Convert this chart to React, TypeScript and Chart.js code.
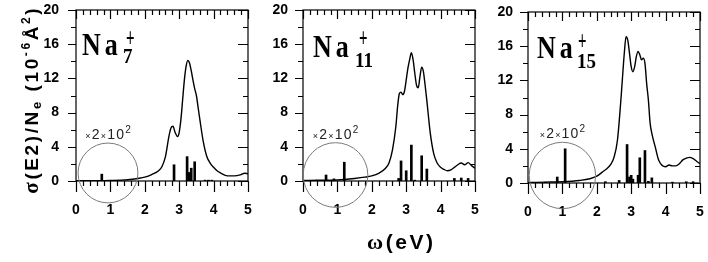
import React, { useEffect, useRef } from "react";
import { Chart, registerables } from "chart.js";

Chart.register(...registerables);

// ---------------- data ----------------
const xTicks = [0, 1, 2, 3, 4, 5];
const yTicks = [0, 4, 8, 12, 16, 20];
const clusterLabels = ["7", "11", "15"];

// Na7+ : smooth cross-section curve
const na7Energy = [0, 0.5, 1.0, 1.5, 1.8, 2.0, 2.2, 2.4, 2.5, 2.6, 2.7, 2.76, 2.82, 2.88, 2.95, 3.0, 3.05, 3.1, 3.15, 3.2, 3.25, 3.3, 3.35, 3.4, 3.45, 3.5, 3.55, 3.6, 3.7, 3.8, 3.9, 4.0, 4.1, 4.2, 4.4, 4.6, 4.8, 4.9, 5.0];
const na7Sigma = [0.02, 0.03, 0.06, 0.15, 0.3, 0.45, 0.75, 1.2, 1.7, 2.85, 5.2, 6.2, 6.4, 5.7, 5.2, 5.7, 7.2, 9.5, 11.8, 13.4, 14.1, 13.8, 12.9, 11.8, 10.8, 10.0, 8.6, 7.2, 4.6, 2.9, 2.1, 1.6, 1.2, 0.95, 0.6, 0.6, 0.75, 0.9, 0.85];
// Na7+ : discrete transitions (sticks)
const na7StickEnergy = [0.3, 0.5, 0.75, 1.0, 1.3, 2.85, 3.23, 3.28, 3.35, 3.45, 3.75, 3.85, 3.95];
const na7StickHeight = [0.05, 0.08, 0.8, 0.05, 0.05, 1.9, 2.85, 1.0, 1.5, 2.25, 0.1, 0.1, 0.1];

// Na11+
const na11Energy = [0, 0.5, 1.0, 1.5, 1.8, 2.0, 2.2, 2.4, 2.5, 2.6, 2.7, 2.75, 2.8, 2.85, 2.9, 2.95, 3.0, 3.05, 3.1, 3.15, 3.2, 3.25, 3.3, 3.35, 3.4, 3.45, 3.5, 3.55, 3.6, 3.7, 3.8, 3.9, 4.0, 4.1, 4.2, 4.3, 4.4, 4.5, 4.6, 4.7, 4.8, 4.9, 5.0];
const na11Sigma = [0.05, 0.08, 0.12, 0.3, 0.45, 0.6, 0.9, 1.5, 2.1, 3.6, 6.4, 8.7, 10.2, 10.4, 10.1, 10.5, 11.8, 13.2, 14.2, 15.0, 14.2, 12.6, 11.2, 10.9, 12.2, 13.3, 12.8, 11.2, 9.4, 5.6, 3.2, 2.1, 1.6, 1.35, 1.2, 1.3, 1.6, 1.9, 2.1, 1.9, 2.15, 1.8, 1.5];
const na11StickEnergy = [0.4, 0.67, 0.9, 1.2, 2.78, 2.85, 3.0, 3.15, 3.25, 3.45, 3.6, 4.4, 4.6, 4.8];
const na11StickHeight = [0.1, 0.7, 0.25, 2.2, 0.3, 2.35, 1.2, 4.2, 0.1, 2.95, 1.4, 0.3, 0.35, 0.3];

// Na15+
const na15Energy = [0, 0.5, 1.0, 1.5, 1.8, 2.0, 2.2, 2.3, 2.4, 2.5, 2.6, 2.7, 2.8, 2.85, 2.9, 2.95, 3.0, 3.05, 3.1, 3.15, 3.2, 3.25, 3.3, 3.35, 3.4, 3.45, 3.5, 3.55, 3.6, 3.7, 3.8, 3.9, 4.0, 4.1, 4.2, 4.3, 4.4, 4.5, 4.6, 4.7, 4.8, 4.9, 5.0];
const na15Sigma = [0.05, 0.1, 0.15, 0.3, 0.5, 0.8, 1.4, 1.7, 2.15, 3.0, 5.0, 9.7, 15.2, 17.1, 16.7, 15.2, 13.6, 13.0, 13.6, 14.8, 15.4, 15.0, 14.4, 14.6, 14.0, 11.6, 9.7, 7.0, 5.8, 4.2, 2.65, 2.05, 1.9, 2.1, 2.0, 2.0, 2.25, 2.7, 2.9, 3.0, 2.85, 2.55, 2.25];
const na15StickEnergy = [0.5, 0.85, 1.08, 2.25, 2.65, 2.88, 2.95, 3.0, 3.05, 3.2, 3.25, 3.4, 3.5, 3.6, 4.2, 4.6, 4.8];
const na15StickHeight = [0.1, 0.7, 4.0, 0.15, 0.3, 4.5, 0.7, 0.9, 0.45, 0.9, 2.95, 3.8, 0.2, 0.6, 0.1, 0.15, 0.15];

// ---------------- layout / style ----------------
const X_MINOR = 0.2;
const Y_MINOR = 2;
const SANS = '"Liberation Sans", Arial, sans-serif';
const SERIF = '"Liberation Serif", "Times New Roman", serif';

type Panel = {
  energy: number[]; sigma: number[]; stickE: number[]; stickH: number[]; sub: string;
  canvasLeft: number; canvasWidth: number; yAxisWidth: number; padRight: number; padTop: number;
  xAxisHeight: number; yLabelGap: number;
  nameDx: number; nameBase: number; subDx: number; subBase: number; plusDx: number; plusBase: number;
  circle: { x: number; y: number; r: number };
  yTitle: boolean; xTitle: boolean;
};

const panels: Panel[] = [
  {
    energy: na7Energy, sigma: na7Sigma, stickE: na7StickEnergy, stickH: na7StickHeight, sub: clusterLabels[0],
    canvasLeft: 0, canvasWidth: 256, yAxisWidth: 76, padRight: 8, padTop: 10, xAxisHeight: 81, yLabelGap: 17,
    nameDx: 6, nameBase: 45, subDx: 47, subBase: 53, plusDx: 50, plusBase: 37,
    circle: { x: 0.93, y: 0.94, r: 0.87 }, yTitle: true, xTitle: false,
  },
  {
    energy: na11Energy, sigma: na11Sigma, stickE: na11StickEnergy, stickH: na11StickHeight, sub: clusterLabels[1],
    canvasLeft: 256, canvasWidth: 226, yAxisWidth: 47, padRight: 7, padTop: 10, xAxisHeight: 81, yLabelGap: 15,
    nameDx: 10, nameBase: 47, subDx: 52, subBase: 57, plusDx: 56, plusBase: 37,
    circle: { x: 0.945, y: 0.7, r: 0.94 }, yTitle: false, xTitle: true,
  },
  {
    energy: na15Energy, sigma: na15Sigma, stickE: na15StickEnergy, stickH: na15StickHeight, sub: clusterLabels[2],
    canvasLeft: 482, canvasWidth: 226, yAxisWidth: 46, padRight: 8, padTop: 12, xAxisHeight: 79, yLabelGap: 15,
    nameDx: 9, nameBase: 46, subDx: 49, subBase: 56, plusDx: 50, plusBase: 38,
    circle: { x: 1.0, y: 0.88, r: 0.965 }, yTitle: false, xTitle: false,
  },
];

type Seg = { t: string; font: string; dy?: number };

function runWidth(ctx: CanvasRenderingContext2D, segs: Seg[], sp: number) {
  let w = 0;
  let n = 0;
  for (const s of segs) {
    ctx.font = s.font;
    for (const ch of s.t) { w += ctx.measureText(ch).width; n++; }
  }
  return w + sp * (n - 1);
}

function drawRun(ctx: CanvasRenderingContext2D, segs: Seg[], x: number, y: number, sp: number) {
  let cx = x;
  for (const s of segs) {
    ctx.font = s.font;
    for (const ch of s.t) {
      ctx.fillText(ch, cx, y + (s.dy || 0));
      cx += ctx.measureText(ch).width + sp;
    }
  }
}

function stretched(ctx: CanvasRenderingContext2D, text: string, x: number, base: number, font: string, sy: number) {
  ctx.save();
  ctx.translate(x, base);
  ctx.scale(1, sy);
  ctx.font = font;
  ctx.textAlign = "left";
  ctx.textBaseline = "alphabetic";
  ctx.fillText(text, 0, 0);
  ctx.restore();
}

function makeOverlay(p: Panel) {
  return {
    id: "overlay",
    afterDraw(chart: any) {
      const { ctx, chartArea: a } = chart;
      const xs = chart.scales.x;
      const ys = chart.scales.y;
      ctx.save();
      ctx.strokeStyle = "#000";
      ctx.lineWidth = 1.2;
      ctx.strokeRect(a.left, a.top, a.right - a.left, a.bottom - a.top);
      ctx.beginPath();
      const nx = Math.round((xs.max - xs.min) / X_MINOR);
      for (let i = 0; i <= nx; i++) {
        const v = xs.min + i * X_MINOR;
        const px = Math.round(xs.getPixelForValue(v)) + 0.5;
        const major = Math.abs(v - Math.round(v)) < 1e-6;
        ctx.moveTo(px, a.bottom);
        ctx.lineTo(px, a.bottom + (major ? 11 : 5));
        ctx.moveTo(px, a.top);
        ctx.lineTo(px, a.top + (major ? 9 : 5));
      }
      const ny = Math.round((ys.max - ys.min) / Y_MINOR);
      for (let i = 0; i <= ny; i++) {
        const v = ys.min + i * Y_MINOR;
        const py = Math.round(ys.getPixelForValue(v)) + 0.5;
        const major = i % 2 === 0;
        ctx.moveTo(a.left, py);
        ctx.lineTo(a.left - (major ? 8 : 5), py);
        ctx.moveTo(a.right, py);
        ctx.lineTo(a.right - (major ? 10 : 5), py);
      }
      ctx.stroke();

      // circle marking the magnified low-energy region
      const unit = xs.getPixelForValue(1) - xs.getPixelForValue(0);
      const cx = xs.getPixelForValue(p.circle.x);
      const cy = ys.getPixelForValue(p.circle.y);
      const r = p.circle.r * unit;
      ctx.beginPath();
      ctx.strokeStyle = "#7a7a7a";
      ctx.lineWidth = 1;
      ctx.arc(cx, cy, r, 0, Math.PI * 2);
      ctx.stroke();

      // magnification label
      ctx.fillStyle = "#222";
      ctx.textBaseline = "alphabetic";
      ctx.textAlign = "left";
      const mag: Seg[] = [
        { t: "×", font: `9px ${SANS}` },
        { t: "2", font: `14px ${SANS}` },
        { t: "×", font: `9px ${SANS}` },
        { t: "10", font: `14px ${SANS}` },
        { t: "2", font: `10px ${SANS}`, dy: -6 },
      ];
      const mw = runWidth(ctx, mag, 1.2);
      drawRun(ctx, mag, cx - mw / 2, cy - r - 4, 1.2);

      // cluster name
      ctx.fillStyle = "#000";
      const nameFont = `bold 26px ${SERIF}`;
      const nx0 = a.left + p.nameDx;
      const nb = a.top + p.nameBase;
      ctx.font = nameFont;
      const wN = ctx.measureText("N").width;
      stretched(ctx, "N", nx0, nb, nameFont, 1.22);
      stretched(ctx, "a", nx0 + wN + 4, nb, nameFont, 1.22);
      stretched(ctx, p.sub, a.left + p.subDx, a.top + p.subBase, `bold 19px ${SERIF}`, 1.12);
      stretched(ctx, "+", a.left + p.plusDx, a.top + p.plusBase, `bold 15px ${SERIF}`, 1.8);

      if (p.yTitle) {
        const segs: Seg[] = [
          { t: "σ", font: `bold 21px ${SERIF}` },
          { t: "(E2)/N", font: `bold 19px ${SANS}` },
          { t: "e", font: `bold 13px ${SANS}`, dy: 3 },
          { t: " (10", font: `bold 19px ${SANS}` },
          { t: "-6", font: `bold 12px ${SANS}`, dy: -8 },
          { t: "Å", font: `bold 19px ${SANS}` },
          { t: "2", font: `bold 12px ${SANS}`, dy: -8 },
          { t: ")", font: `bold 19px ${SANS}` },
        ];
        const sp = 2.6;
        const w = runWidth(ctx, segs, sp);
        ctx.save();
        ctx.translate(38 - p.canvasLeft, 101);
        ctx.rotate(-Math.PI / 2);
        drawRun(ctx, segs, -w / 2, 0, sp);
        ctx.restore();
      }
      if (p.xTitle) {
        const segs: Seg[] = [
          { t: "ω", font: `bold 22px ${SERIF}` },
          { t: "(eV)", font: `bold 21px ${SANS}` },
        ];
        const sp = 2.5;
        const w = runWidth(ctx, segs, sp);
        drawRun(ctx, segs, 400 - p.canvasLeft - w / 2, 249, sp);
      }
      ctx.restore();
    },
  };
}

function PanelChart({ p }: { p: Panel }) {
  const ref = useRef<HTMLCanvasElement | null>(null);
  useEffect(() => {
    if (!ref.current) return;
    const tickFont = { family: SANS, size: 14, weight: "bold" as const };
    const chart = new Chart(ref.current, {
      type: "line",
      data: {
        datasets: [
          {
            type: "bar",
            data: p.stickE.map((e, i) => ({ x: e, y: p.stickH[i] })),
            backgroundColor: "#000",
            borderWidth: 0,
            barThickness: 2,
            order: 1,
          } as any,
          {
            type: "line",
            data: p.energy.map((e, i) => ({ x: e, y: p.sigma[i] })),
            borderColor: "#000",
            borderWidth: 1.4,
            pointRadius: 0,
            fill: false,
            tension: 0.4,
            cubicInterpolationMode: "monotone",
            order: 0,
          } as any,
        ],
      },
      options: {
        responsive: false,
        animation: false,
        maintainAspectRatio: false,
        layout: { padding: { left: 0, right: p.padRight, top: p.padTop, bottom: 0 } },
        plugins: { legend: { display: false }, tooltip: { enabled: false }, title: { display: false } },
        scales: {
          x: {
            type: "linear",
            min: xTicks[0],
            max: xTicks[xTicks.length - 1],
            offset: false,
            grid: { display: false, drawTicks: false },
            border: { display: false },
            ticks: {
              stepSize: xTicks[1] - xTicks[0],
              padding: 21,
              color: "#000",
              font: tickFont,
              maxRotation: 0,
              autoSkip: false,
              callback: (v: any) => String(v),
            },
            afterFit: (s: any) => {
              s.height = p.xAxisHeight;
              s.paddingLeft = 0;
              s.paddingRight = 0;
            },
          },
          y: {
            type: "linear",
            min: yTicks[0],
            max: yTicks[yTicks.length - 1],
            grid: { display: false, drawTicks: false },
            border: { display: false },
            ticks: {
              stepSize: yTicks[1] - yTicks[0],
              padding: p.yLabelGap,
              color: "#000",
              font: tickFont,
              autoSkip: false,
              callback: (v: any) => String(v),
            },
            afterFit: (s: any) => {
              s.width = p.yAxisWidth;
              s.paddingTop = 0;
              s.paddingBottom = 0;
            },
          },
        },
      } as any,
      plugins: [makeOverlay(p)],
    });
    return () => chart.destroy();
  }, [p]);
  return (
    <canvas
      ref={ref}
      width={p.canvasWidth}
      height={262}
      style={{ position: "absolute", left: p.canvasLeft, top: 0, width: p.canvasWidth, height: 262 }}
    />
  );
}

export default function App() {
  return (
    <div style={{ position: "absolute", left: 0, top: 0, width: 708, height: 262, background: "#fff", overflow: "hidden" }}>
      {panels.map((p, i) => (
        <PanelChart key={i} p={p} />
      ))}
    </div>
  );
}
